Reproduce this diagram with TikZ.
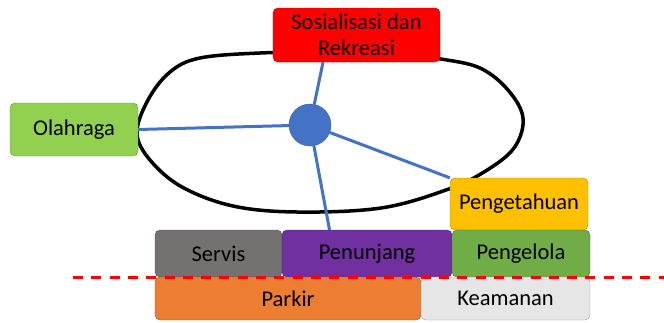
\documentclass[tikz,border=0pt]{standalone}
\usepackage{fontspec}
\setmainfont{Carlito}
\usepackage{xcolor}
\usepackage{tikz}
\usetikzlibrary{positioning, calc, backgrounds}

\definecolor{merah}{HTML}{FF0000}
\definecolor{hijau}{HTML}{92D050}
\definecolor{kuning}{HTML}{FFC000}
\definecolor{abu}{HTML}{767171}
\definecolor{ungu}{HTML}{7030A0}
\definecolor{hijautua}{HTML}{70AD47}
\definecolor{oranye}{HTML}{ED7D31}
\definecolor{abumuda}{HTML}{E7E6E6}
\definecolor{biru}{HTML}{4472C4}

\begin{document}
\begin{tikzpicture}[x=1pt, y=-1pt,
    kotak/.style={draw=#1!70!black, fill=#1, rounded corners=5pt, inner sep=0pt,
      align=center, font=\fontsize{22.5}{26}\selectfont},
    jari/.style={draw=biru, line width=3pt}]
    \useasboundingbox (0,0) rectangle (664,322);

    % kegiatan utama
    \node[kotak=merah, minimum width=167pt, minimum height=54pt] (sos) at (356.5,35) {Sosialisasi dan\\Rekreasi};
    \node[kotak=hijau, minimum width=128pt, minimum height=53pt] (ola) at (74,129.5) {Olahraga};
    \node[kotak=kuning, minimum width=138pt, minimum height=52pt] (tahu) at (519,204) {Pengetahuan};
    \node[circle, fill=biru, draw=biru!80!black, minimum size=42pt] (pusat) at (310,125) {};

    % fasilitas pendukung
    \node[kotak=abu, minimum width=127pt, minimum height=47pt] (servis) at (218.5,253.5) {Servis};
    \node[kotak=ungu, minimum width=170pt, minimum height=47pt] (tunjang) at (367,253.5) {Penunjang};
    \node[kotak=hijautua, minimum width=138pt, minimum height=47pt] (kelola) at (521,253.5) {Pengelola};
    \node[kotak=oranye, minimum width=266pt, minimum height=43pt] (parkir) at (288,298.5) {Parkir};
    \node[kotak=abumuda, minimum width=169pt, minimum height=43pt] (aman) at (505.5,298.5) {Keamanan};

    % batas
    \draw[merah, line width=3pt, dash pattern=on 10pt off 8.3pt] (73,277) -- (664,277);

    \begin{scope}[on background layer]
      \draw[line width=3.5pt] plot[smooth cycle, tension=0.6] coordinates {
        (137,133) (148,100) (170,72) (200,58) (260,53) (330,52) (400,54)
        (441,59) (480,68) (508,90) (523,118) (514,148) (484,172) (446,190)
        (381,208) (297,212) (233,206) (182,187) (150,160)};
      \draw[jari] (pusat) -- ($(sos.south west)!0.3!(sos.south east)$);
      \draw[jari] (pusat) -- (ola.east);
      \draw[jari] (pusat) -- (tahu.north west);
      \draw[jari] (pusat) -- ($(tunjang.north west)!0.28!(tunjang.north east)$);
    \end{scope}
\end{tikzpicture}
\end{document}
